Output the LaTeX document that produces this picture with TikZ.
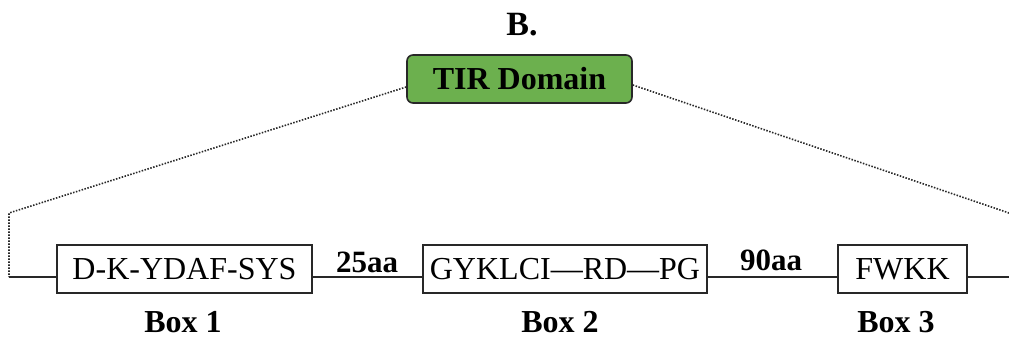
\documentclass[tikz,border=0pt]{standalone}
\usepackage{fontspec}
\setmainfont{Liberation Serif}
\definecolor{tirgreen}{RGB}{108,176,78}
\definecolor{ink}{RGB}{40,40,40}
\begin{document}
\begin{tikzpicture}[x=1pt,y=-1pt,
  seqbox/.style={draw=ink,line width=1.6pt,minimum height=48pt,inner sep=0pt,
    font=\fontsize{32}{36}\selectfont},
  lbl/.style={font=\fontsize{32}{36}\selectfont\bfseries,inner sep=0pt,anchor=base},
  chain/.style={draw=ink,line width=1.8pt},
  dots/.style={draw=ink,line width=1.6pt,dash pattern=on 1.5pt off 1.5pt}]
\useasboundingbox (0,0) rectangle (1009,338);
\node[lbl,font=\fontsize{34}{38}\selectfont\bfseries] (title) at (522,35) {B.};
\node[draw=ink,line width=1.6pt,fill=tirgreen,rounded corners=6pt,minimum width=225pt,
  minimum height=48pt,inner sep=0pt,font=\fontsize{32}{36}\selectfont\bfseries]
  (tir) at (519.5,79) {TIR Domain};
\node[seqbox,minimum width=255pt] (b1) at (184.5,269) {D-K-YDAF-SYS};
\node[seqbox,minimum width=284pt] (b2) at (565,269) {GYKLCI---RD---PG};
\node[seqbox,minimum width=129pt] (b3) at (902.5,269) {FWKK};
\node[lbl] (l1) at (183,332) {Box 1};
\node[lbl] (l2) at (560,332) {Box 2};
\node[lbl] (l3) at (896,332) {Box 3};
\node[lbl,font=\fontsize{31}{36}\selectfont\bfseries] (aa25) at (367,272) {25aa};
\node[lbl,font=\fontsize{31}{36}\selectfont\bfseries] (aa90) at (771,270) {90aa};
\coordinate (lcorner) at (9,213);
\coordinate (lstart) at (9,277);
\coordinate (rcorner) at (1009,213);
\coordinate (rend) at (1009,277);
\draw[chain] (lstart) -- ([yshift=-8pt]b1.west);
\draw[chain] ([yshift=-8pt]b1.east) -- ([yshift=-8pt]b2.west);
\draw[chain] ([yshift=-8pt]b2.east) -- ([yshift=-8pt]b3.west);
\draw[chain] ([yshift=-8pt]b3.east) -- (rend);
\draw[dots] ([yshift=-8pt]tir.west) -- (lcorner) -- (lstart);
\draw[dots] ([yshift=-6pt]tir.east) -- (rcorner);
\end{tikzpicture}
\end{document}
